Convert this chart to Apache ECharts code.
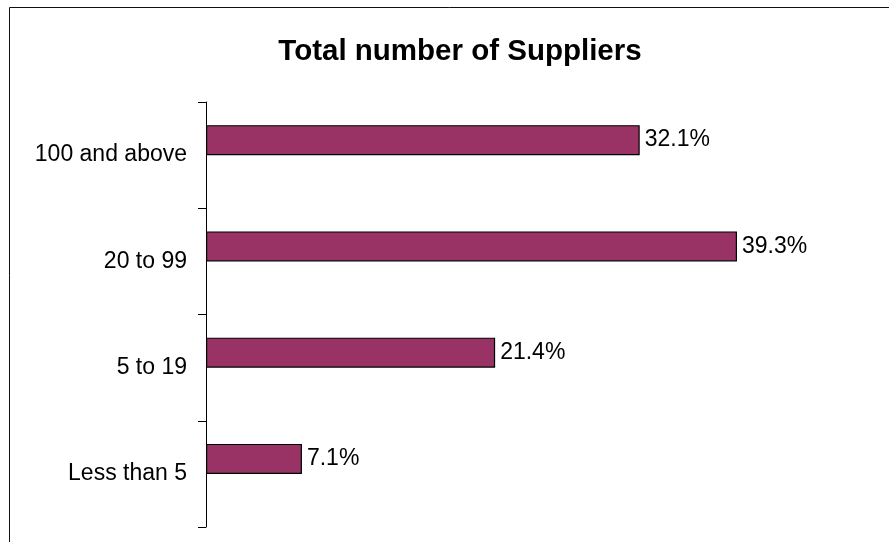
<!DOCTYPE html>
<html>
<head>
<meta charset="utf-8">
<script src="https://cdn.jsdelivr.net/npm/echarts@6/dist/echarts.min.js"></script>
<style>
html,body{margin:0;padding:0;background:#fff;}
#chart{width:889px;height:542px;}
</style>
</head>
<body>
<div id="chart"></div>
<script>
const titleText = 'Total number of Suppliers';
const categories = ['100 and above', '20 to 99', '5 to 19', 'Less than 5'];
const shares = [32.1, 39.3, 21.4, 7.1];
const emptySeries = [null, null, null, null];

const chart = echarts.init(document.getElementById('chart'), null, {renderer: 'canvas'});
const font = 'Liberation Sans, Arial, sans-serif';
chart.setOption({
  animation: false,
  backgroundColor: '#ffffff',
  title: {
    text: titleText,
    left: 455, top: 32, textAlign: 'center',
    textStyle: {fontFamily: font, fontWeight: 'bold', fontSize: 29.5, color: '#000'}
  },
  graphic: [{
    type: 'rect', shape: {x: 9.5, y: 7.5, width: 1000, height: 1000},
    style: {fill: 'none', stroke: '#111', lineWidth: 1}, silent: true
  }],
  grid: {left: 206, top: 102, width: 608, height: 425},
  xAxis: {
    type: 'value', min: 0, max: 45, show: false,
    splitLine: {show: false}
  },
  yAxis: {
    type: 'category', data: categories, inverse: true,
    axisLine: {show: true, lineStyle: {color: '#000', width: 1}},
    axisTick: {show: true, length: 8, lineStyle: {color: '#000'}},
    axisLabel: {fontFamily: font, fontSize: 23, color: '#000', margin: 19},
    splitLine: {show: false}
  },
  series: [{
    type: 'bar', data: shares, barWidth: 30, barGap: '0%',
    itemStyle: {color: '#993366', borderColor: '#000', borderWidth: 1.2},
    label: {
      show: true, position: 'right', distance: 5,
      fontFamily: font, fontSize: 23, color: '#000',
      formatter: p => p.value.toFixed(1) + '%'
    }
  }, {
    type: 'bar', data: emptySeries, barWidth: 30, barGap: '0%'
  }]
});
</script>
</body>
</html>
